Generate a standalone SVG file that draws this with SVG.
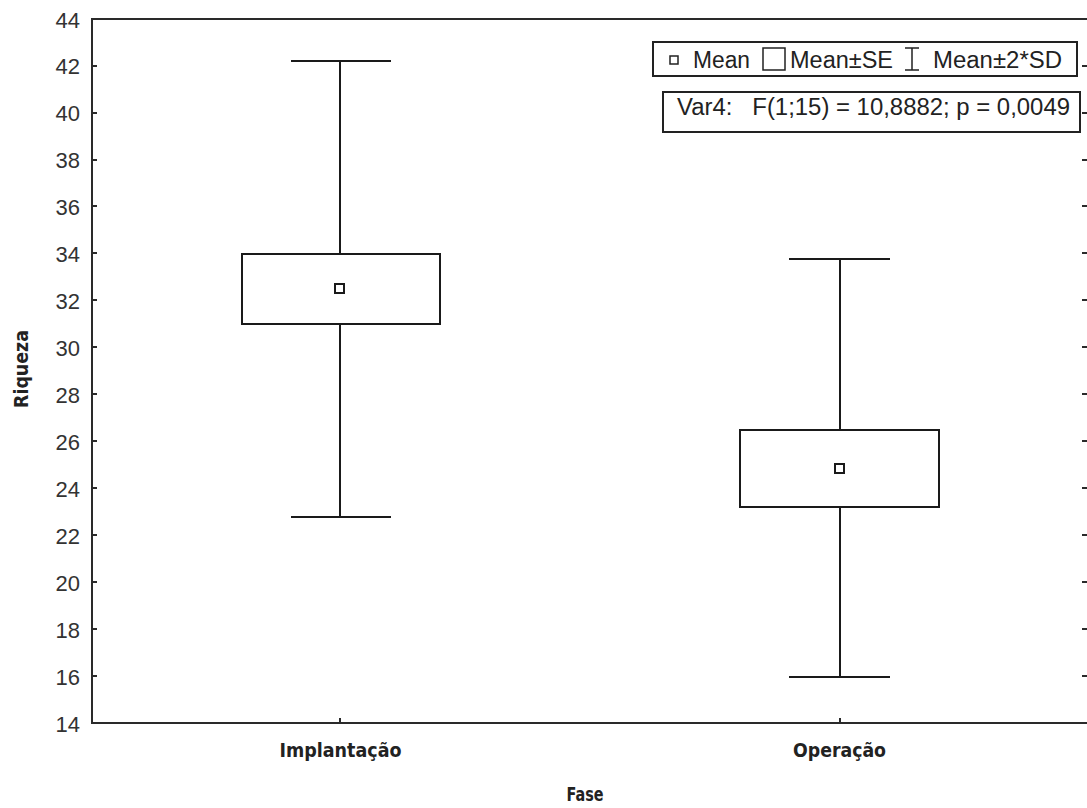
<svg xmlns="http://www.w3.org/2000/svg" width="1087" height="808" viewBox="0 0 1087 808">
<style>
.ax{stroke:#2a2a2a;stroke-width:2;fill:none}
.bx{stroke:#1a1a1a;stroke-width:2;fill:#fff}
.wh{stroke:#1a1a1a;stroke-width:2;fill:none}
.tl{font-family:"Liberation Sans",Arial,sans-serif;font-size:22px;fill:#333;text-anchor:end}
.lg{font-family:"Liberation Sans",Arial,sans-serif;font-size:23px;fill:#222}
.lb{font-family:"DejaVu Sans",Verdana,sans-serif;font-weight:bold;font-size:19px;fill:#222;text-anchor:middle}
</style>
<rect width="1087" height="808" fill="#fff"/>
<g id="axes">
<path class="ax" d="M1088,19 H92 V723 H1088"/>
<path class="ax" d="M92,66 h5 M92,113 h5 M92,160 h5 M92,206 h5 M92,253 h5 M92,300 h5 M92,347 h5 M92,394 h5 M92,441 h5 M92,488 h5 M92,535 h5 M92,582 h5 M92,629 h5 M92,676 h5"/>
<path class="ax" d="M1082,66 h6 M1082,113 h6 M1082,160 h6 M1082,206 h6 M1082,253 h6 M1082,300 h6 M1082,347 h6 M1082,394 h6 M1082,441 h6 M1082,488 h6 M1082,535 h6 M1082,582 h6 M1082,629 h6 M1082,676 h6"/>
<path class="ax" d="M340,723 v-5 M840,723 v-5"/>
<g class="tl">
<text x="80" y="28">44</text>
<text x="80" y="74">42</text>
<text x="80" y="121">40</text>
<text x="80" y="168">38</text>
<text x="80" y="215">36</text>
<text x="80" y="262">34</text>
<text x="80" y="309">32</text>
<text x="80" y="356">30</text>
<text x="80" y="403">28</text>
<text x="80" y="450">26</text>
<text x="80" y="497">24</text>
<text x="80" y="544">22</text>
<text x="80" y="591">20</text>
<text x="80" y="638">18</text>
<text x="80" y="685">16</text>
<text x="80" y="732">14</text>
</g>
<text class="lb" x="340.5" y="757" textLength="122" lengthAdjust="spacingAndGlyphs">Implantação</text>
<text class="lb" x="839.5" y="757" textLength="93" lengthAdjust="spacingAndGlyphs">Operação</text>
<text class="lb" x="585" y="801" textLength="37" lengthAdjust="spacingAndGlyphs">Fase</text>
<text class="lb" transform="translate(28,369) rotate(-90)" x="0" y="0" textLength="78" lengthAdjust="spacingAndGlyphs">Riqueza</text>
</g>
<g id="connectors">
<path class="wh" d="M291,61 H391 M340,61 V254 M340,324 V517 M291,517 H391"/>
<path class="wh" d="M789,259 H890 M840,259 V430 M840,507 V677 M789,677 H890"/>
</g>
<g id="implantacao">
<rect class="bx" x="242" y="254" width="198" height="70"/>
<rect class="bx" x="335" y="284" width="9" height="9"/>
</g>
<g id="operacao">
<rect class="bx" x="740" y="430" width="199" height="77"/>
<rect class="bx" x="835" y="464" width="9" height="9"/>
</g>
<g id="legend">
<rect x="653" y="42" width="424" height="34" fill="#fff" stroke="#222" stroke-width="2"/>
<rect x="670" y="56" width="8" height="8" fill="#fff" stroke="#222" stroke-width="1.5"/>
<text class="lg" x="693" y="68" textLength="57" lengthAdjust="spacingAndGlyphs">Mean</text>
<rect x="763" y="48" width="22" height="22" fill="#fff" stroke="#222" stroke-width="1.5"/>
<text class="lg" x="790" y="68" textLength="103" lengthAdjust="spacingAndGlyphs">Mean±SE</text>
<path d="M905,48 H919 M912,48 V70 M905,70 H919" stroke="#222" stroke-width="1.5" fill="none"/>
<text class="lg" x="933" y="68" textLength="129" lengthAdjust="spacingAndGlyphs">Mean±2*SD</text>
<rect x="663" y="92" width="417" height="40" fill="#fff" stroke="#222" stroke-width="2"/>
<text class="lg" x="677" y="115" xml:space="preserve" textLength="393" lengthAdjust="spacingAndGlyphs">Var4:   F(1;15) = 10,8882; p = 0,0049</text>
</g>
</svg>
